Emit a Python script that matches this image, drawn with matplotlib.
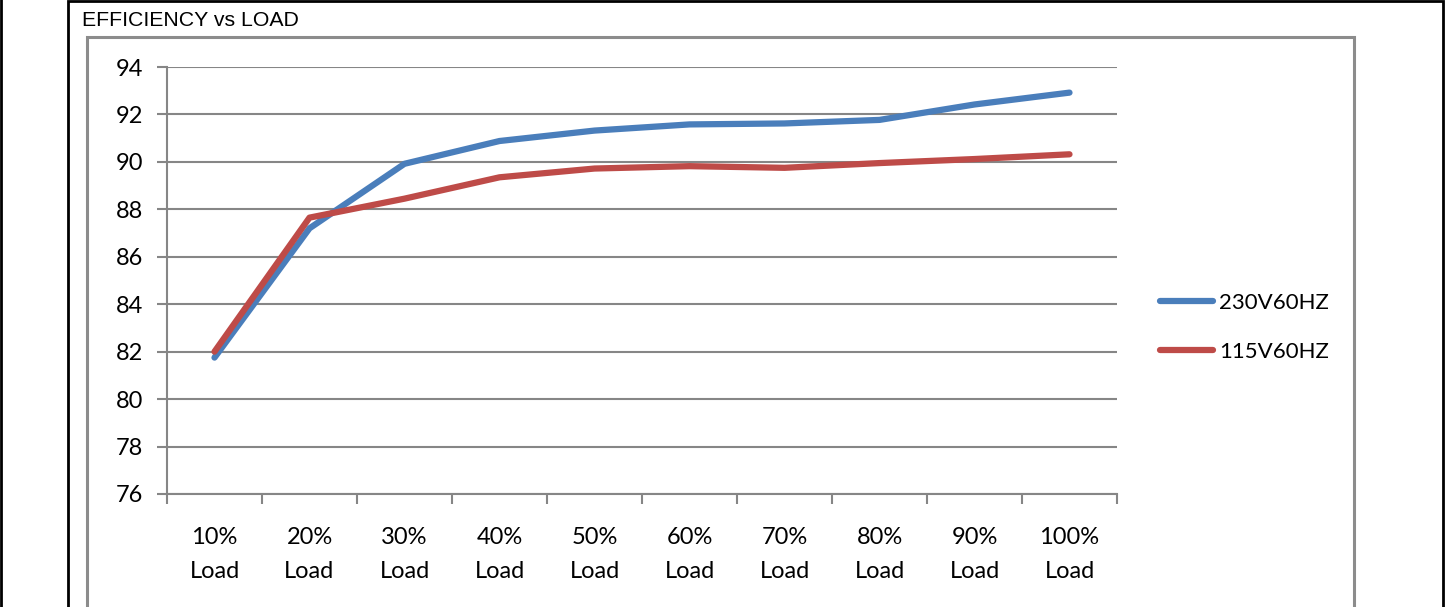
import numpy as np
import matplotlib.pyplot as plt
from matplotlib.patches import Rectangle
from matplotlib.lines import Line2D

# Data
categories = ['10%\nLoad', '20%\nLoad', '30%\nLoad', '40%\nLoad', '50%\nLoad',
              '60%\nLoad', '70%\nLoad', '80%\nLoad', '90%\nLoad', '100%\nLoad']
eff_230v = [81.75, 87.2, 89.92, 90.88, 91.32, 91.58, 91.62, 91.77, 92.42, 92.92]
eff_115v = [82.0, 87.65, 88.45, 89.35, 89.72, 89.82, 89.75, 89.95, 90.12, 90.32]
y_ticks = [76, 78, 80, 82, 84, 86, 88, 90, 92, 94]

W, H = 1451, 607
fig = plt.figure(figsize=(W / 100, H / 100), dpi=100)

def fx(px):
    return px / W

def fy(py):
    return 1 - py / H

# frames around the chart
fig.add_artist(Rectangle((fx(68), fy(640)), fx(1443) - fx(68), fy(1) - fy(640),
                         transform=fig.transFigure, fill=False, ec='black', lw=2))
fig.add_artist(Line2D([fx(1), fx(1)], [0, 1], transform=fig.transFigure, color='black', lw=2))
fig.add_artist(Rectangle((fx(87), fy(640)), fx(1354) - fx(87), fy(37) - fy(640),
                         transform=fig.transFigure, fill=False, ec='#8c8c8c', lw=2.2))

fig.text(fx(82), fy(20), 'EFFICIENCY vs LOAD', fontsize=15.3, family='Liberation Sans',
         va='center', ha='left')

ax = fig.add_axes([fx(167), fy(494), fx(1117) - fx(167), fy(67) - fy(494)])
x = np.arange(len(categories))
ax.plot(x, eff_230v, color='#4a7ebb', lw=4.5, solid_capstyle='round', label='230V60HZ')
ax.plot(x, eff_115v, color='#be4b48', lw=4.5, solid_capstyle='round', label='115V60HZ')

ax.set_xlim(-0.5, len(categories) - 0.5)
ax.set_ylim(76, 94)
ax.set_yticks(y_ticks)
ax.set_xticks(np.arange(len(categories) + 1) - 0.5, minor=True)
ax.set_xticks(x)
ax.set_xticklabels(categories, fontsize=17, family='Lato', linespacing=1.75)
ax.set_yticklabels([str(v) for v in y_ticks], fontsize=17, family='Lato')
ax.tick_params(axis='x', which='major', length=0, pad=24)
ax.tick_params(axis='x', which='minor', length=7, color='#868686', width=1.5)
ax.tick_params(axis='y', length=7, color='#868686', width=1.5, pad=10)
ax.grid(axis='y', color='#868686', lw=1.5)
ax.set_axisbelow(True)
for side in ['top', 'right']:
    ax.spines[side].set_visible(False)
for side in ['left', 'bottom']:
    ax.spines[side].set_color('#868686')
    ax.spines[side].set_linewidth(1.5)

leg = ax.legend(loc='center left', bbox_to_anchor=((1140 - 167) / (1117 - 167), 0.39),
                frameon=False, prop={'family': 'Lato', 'size': 16},
                handlelength=2.4, handletextpad=0.27, labelspacing=1.3)

fig.savefig('out.png', dpi=100)
